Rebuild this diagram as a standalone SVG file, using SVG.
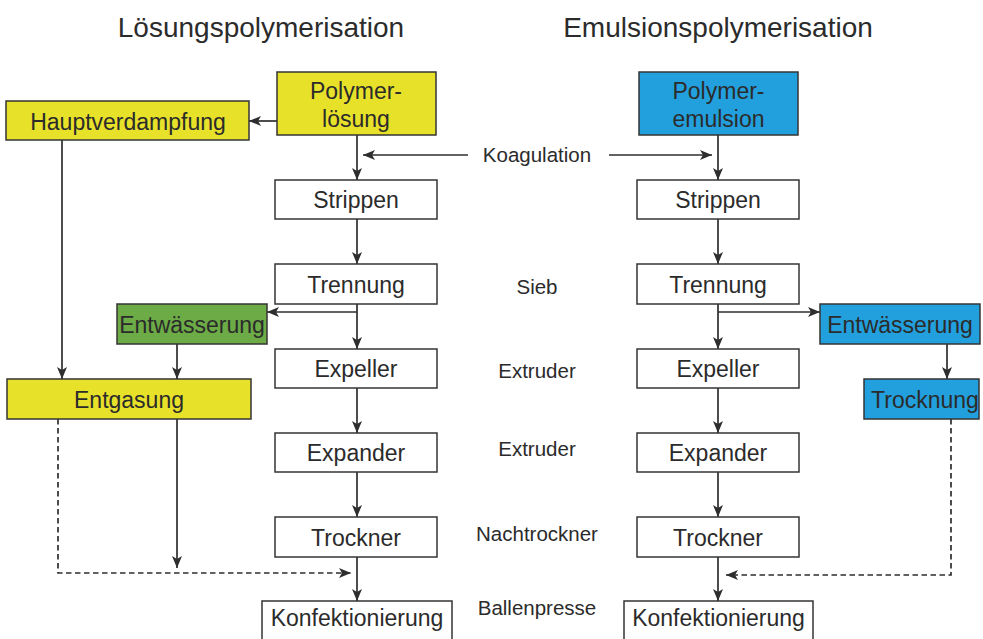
<svg xmlns="http://www.w3.org/2000/svg" width="983" height="639" viewBox="0 0 983 639">
<style>
.box{stroke:#353535;stroke-width:1.5}
.w{fill:#ffffff}
.y{fill:#e8e12a}
.g{fill:#6cab46}
.b{fill:#22a0de}
.t{font-family:"Liberation Sans",Arial,sans-serif;font-size:23px;fill:#2b2b2b;text-anchor:middle}
.s{font-family:"Liberation Sans",Arial,sans-serif;font-size:20.5px;fill:#2b2b2b;text-anchor:middle}
.h{font-family:"Liberation Sans",Arial,sans-serif;font-size:28px;fill:#2b2b2b;text-anchor:middle}
.c{fill:none;stroke:#2e2e2e;stroke-width:1.7}
.d{stroke-dasharray:5.5 3.5}
</style>
<defs>
<marker id="ah" viewBox="0 0 12 10" refX="12" refY="5" markerWidth="12" markerHeight="10" markerUnits="userSpaceOnUse" orient="auto">
<path d="M0,0 L12,5 L0,10 L3,5 z" fill="#2e2e2e"/>
</marker>
</defs>
<rect width="983" height="639" fill="#ffffff"/>
<text class="h" x="261" y="37">Lösungspolymerisation</text>
<text class="h" x="718" y="37">Emulsionspolymerisation</text>
<g id="labels">
<text class="s" x="537" y="162">Koagulation</text>
<text class="s" x="537" y="294">Sieb</text>
<text class="s" x="537" y="378">Extruder</text>
<text class="s" x="537" y="456">Extruder</text>
<text class="s" x="537" y="541">Nachtrockner</text>
<text class="s" x="537" y="615">Ballenpresse</text>
</g>
<g id="connectors">
<path class="c" d="M277,121 H249" marker-end="url(#ah)"/>
<path class="c" d="M357,135 V180" marker-end="url(#ah)"/>
<path class="c" d="M468,155 H363" marker-end="url(#ah)"/>
<path class="c" d="M609,155 H712" marker-end="url(#ah)"/>
<path class="c" d="M718,135 V180" marker-end="url(#ah)"/>
<path class="c" d="M357,219 V264" marker-end="url(#ah)"/>
<path class="c" d="M718,219 V264" marker-end="url(#ah)"/>
<path class="c" d="M357,304 V349" marker-end="url(#ah)"/>
<path class="c" d="M357,312 H267" marker-end="url(#ah)"/>
<path class="c" d="M718,304 V349" marker-end="url(#ah)"/>
<path class="c" d="M718,312 H820" marker-end="url(#ah)"/>
<path class="c" d="M177,344 V379" marker-end="url(#ah)"/>
<path class="c" d="M62,140 V379" marker-end="url(#ah)"/>
<path class="c" d="M947,344 V379" marker-end="url(#ah)"/>
<path class="c" d="M357,388 V433" marker-end="url(#ah)"/>
<path class="c" d="M718,388 V433" marker-end="url(#ah)"/>
<path class="c" d="M357,472 V517" marker-end="url(#ah)"/>
<path class="c" d="M718,472 V517" marker-end="url(#ah)"/>
<path class="c" d="M357,557 V601" marker-end="url(#ah)"/>
<path class="c" d="M718,557 V601" marker-end="url(#ah)"/>
<path class="c" d="M177,419 V568" marker-end="url(#ah)"/>
<path class="c d" d="M58,419 V573 H351" marker-end="url(#ah)"/>
<path class="c d" d="M951,419 V575 H726" marker-end="url(#ah)"/>
</g>
<g id="polymerloesung"><rect class="box y" x="277" y="72" width="159" height="63"/><text class="t" x="356" y="99">Polymer-</text><text class="t" x="356" y="127">lösung</text></g>
<g id="hauptverdampfung"><rect class="box y" x="6" y="101" width="243" height="39"/><text class="t" x="128" y="130">Hauptverdampfung</text></g>
<g id="polymeremulsion"><rect class="box b" x="639" y="72" width="159" height="63"/><text class="t" x="718.5" y="99">Polymer-</text><text class="t" x="718.5" y="127">emulsion</text></g>
<g id="strippen-l"><rect class="box w" x="275" y="180" width="162" height="39"/><text class="t" x="356" y="208">Strippen</text></g>
<g id="strippen-r"><rect class="box w" x="637" y="180" width="162" height="39"/><text class="t" x="718" y="208">Strippen</text></g>
<g id="trennung-l"><rect class="box w" x="275" y="264" width="162" height="40"/><text class="t" x="356" y="293">Trennung</text></g>
<g id="trennung-r"><rect class="box w" x="637" y="264" width="162" height="40"/><text class="t" x="718" y="293">Trennung</text></g>
<g id="entwaesserung-l"><rect class="box g" x="117" y="304" width="150" height="40"/><text class="t" x="192" y="333">Entwässerung</text></g>
<g id="entwaesserung-r"><rect class="box b" x="820" y="304" width="160" height="40"/><text class="t" x="900" y="333">Entwässerung</text></g>
<g id="expeller-l"><rect class="box w" x="275" y="349" width="162" height="39"/><text class="t" x="356" y="377">Expeller</text></g>
<g id="expeller-r"><rect class="box w" x="637" y="349" width="162" height="39"/><text class="t" x="718" y="377">Expeller</text></g>
<g id="entgasung"><rect class="box y" x="7" y="379" width="244" height="40"/><text class="t" x="129" y="408">Entgasung</text></g>
<g id="trocknung"><rect class="box b" x="864" y="379" width="115" height="40"/><text class="t" x="925" y="408">Trocknung</text></g>
<g id="expander-l"><rect class="box w" x="275" y="433" width="162" height="39"/><text class="t" x="356" y="461">Expander</text></g>
<g id="expander-r"><rect class="box w" x="637" y="433" width="162" height="39"/><text class="t" x="718" y="461">Expander</text></g>
<g id="trockner-l"><rect class="box w" x="275" y="517" width="162" height="40"/><text class="t" x="356" y="546">Trockner</text></g>
<g id="trockner-r"><rect class="box w" x="637" y="517" width="162" height="40"/><text class="t" x="718" y="546">Trockner</text></g>
<g id="konfektionierung-l"><rect class="box w" x="262" y="601" width="190" height="42"/><text class="t" x="357" y="626">Konfektionierung</text></g>
<g id="konfektionierung-r"><rect class="box w" x="624" y="601" width="189" height="42"/><text class="t" x="718.5" y="626">Konfektionierung</text></g>
</svg>
